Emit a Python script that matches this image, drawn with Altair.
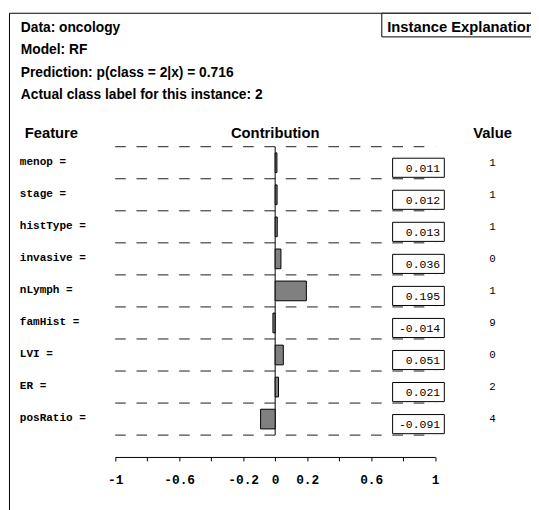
import altair as alt
import pandas as pd

# ---- data ----
features = ["menop", "stage", "histType", "invasive", "nLymph",
            "famHist", "LVI", "ER", "posRatio"]
contributions = [0.011, 0.012, 0.013, 0.036, 0.195, -0.014, 0.051, 0.021, -0.091]
feature_values = ["1", "1", "1", "0", "1", "9", "0", "2", "4"]
title_lines = ["Data: oncology", "Model: RF",
               "Prediction: p(class = 2|x) = 0.716",
               "Actual class label for this instance: 2"]
tick_values = [-1, -0.8, -0.6, -0.4, -0.2, 0, 0.2, 0.4, 0.6, 0.8, 1]
tick_labels = ["-1", "", "-0.6", "", "-0.2", "0", "0.2", "", "0.6", "", "1"]
box_title = "Instance Explanation"
headers = ["Feature", "Contribution", "Value"]

n = len(features)
rows = pd.DataFrame({
    "feature": features,
    "contribution": contributions,
    "value": feature_values,
    "row": list(range(n)),
    "clabel": [f"{c:.3f}" for c in contributions],
})
bounds = pd.DataFrame({"b": list(range(n + 1))})
one = pd.DataFrame({"k": [0]})

MONO = "Liberation Mono"
SANS = "Liberation Sans"
W, H = 531, 452
ROW_PX = (429.8 - 137.0) / n

xscale = alt.Scale(domain=[-1, 1], range=[108.8, 433.7], nice=False, zero=False)
yscale = alt.Scale(domain=[0, n], range=[137.0, 429.8], nice=False, zero=False)

vals_js = "[" + ",".join(str(v) for v in tick_values) + "]"
labs_js = "[" + ",".join("'" + s + "'" for s in tick_labels) + "]"
xaxis = alt.Axis(values=tick_values, title=None, grid=False,
                 labelExpr=f"{labs_js}[indexof({vals_js}, datum.value)]",
                 labelOverlap=False, labelFlush=False, zindex=1)

base = alt.Chart(rows).transform_calculate(
    yc="datum.row + 0.5",
    y0=f"datum.row + 0.5 - {10.0 / ROW_PX}",
    y1=f"datum.row + 0.5 + {10.0 / ROW_PX}",
    bt=f"datum.row + 0.5 - {4.6 / ROW_PX}",
    bb=f"datum.row + 0.5 + {14.8 / ROW_PX}",
    label="datum.feature + ' ='",
    zx="0",
)

frame = alt.Chart(one).mark_rect(fill="white", fillOpacity=0, stroke="black",
                                 strokeWidth=1).encode(
    x=alt.value(1.5), x2=alt.value(W + 40), y=alt.value(1.5), y2=alt.value(H + 120))

dashes = alt.Chart(bounds).transform_calculate(xa="-1", xb="1").mark_rule(
    color="#1a1a1a", strokeWidth=1, strokeDash=[10.8, 10.85]).encode(
    x=alt.X("xa:Q", scale=xscale, axis=xaxis), x2="xb:Q",
    y=alt.Y("b:Q", scale=yscale, axis=None))

zero = alt.Chart(one).transform_calculate(
    xz="0", ya="0", yb=str(n)).mark_rule(color="black", strokeWidth=1).encode(
    x=alt.X("xz:Q", scale=xscale, axis=xaxis),
    y=alt.Y("ya:Q", scale=yscale, axis=None), y2="yb:Q")

bars = base.mark_rect(color="#808080", stroke="black", strokeWidth=1).encode(
    x=alt.X("contribution:Q", scale=xscale, axis=xaxis), x2="zx:Q",
    y=alt.Y("y0:Q", scale=yscale, axis=None), y2="y1:Q")

flabels = base.mark_text(align="left", baseline="alphabetic", font=MONO,
                         fontWeight="bold", fontSize=11.2, dy=2, color="black").encode(
    x=alt.value(12), y=alt.Y("yc:Q", scale=yscale, axis=None), text="label:N")

boxes = base.mark_rect(fill="white", stroke="black", strokeWidth=1).encode(
    x=alt.value(390.5), x2=alt.value(443),
    y=alt.Y("bt:Q", scale=yscale, axis=None), y2="bb:Q")

boxtext = base.mark_text(align="right", baseline="alphabetic", font=MONO,
                         fontSize=11.6, dy=9.5, color="black").encode(
    x=alt.value(438.7), y=alt.Y("yc:Q", scale=yscale, axis=None), text="clabel:N")

vtext = base.mark_text(align="center", baseline="alphabetic", font=MONO,
                       fontSize=11, dy=3, color="black").encode(
    x=alt.value(492), y=alt.Y("yc:Q", scale=yscale, axis=None), text="value:N")

layers = [frame, dashes, zero, bars, boxes, flabels, boxtext, vtext]

# headers
hdr_x = [(17, "left"), (271.3, "center"), (492, "center")]
for (hx, al), txt in zip(hdr_x, headers):
    layers.append(alt.Chart(one).mark_text(
        align=al, baseline="alphabetic", font=SANS, fontWeight="bold",
        fontSize=15, color="black", text=txt).encode(
        x=alt.value(hx), y=alt.value(128)))

# title lines
for k, line in enumerate(title_lines):
    layers.append(alt.Chart(one).mark_text(
        align="left", baseline="alphabetic", font=SANS, fontWeight="bold",
        fontSize=14, color="black", text=line).encode(
        x=alt.value(13), y=alt.value(20.2 + 22.8 * k)))

# instance explanation box
layers.append(alt.Chart(one).mark_rect(fill="white", stroke="black", strokeWidth=1).encode(
    x=alt.value(379.5), x2=alt.value(W + 60), y=alt.value(1.5), y2=alt.value(25.5)))
layers.append(alt.Chart(one).mark_text(
    align="left", baseline="alphabetic", font=SANS, fontWeight="bold",
    fontSize=15, color="black", text=box_title).encode(
    x=alt.value(385), y=alt.value(20.5)))

chart = alt.layer(*layers).properties(
    width=W, height=H,
    autosize=alt.AutoSizeParams(type="none"),
    padding={"left": 0, "top": 0, "right": 0, "bottom": 50},
    background="white",
).configure_view(strokeWidth=0).configure_axis(
    domainColor="black", domainWidth=1, tickColor="black", tickWidth=1,
    tickSize=4, labelFont=MONO, labelFontSize=13, labelFontWeight="bold",
    labelColor="black", labelPadding=13,
)

chart.save("out.html", embed_options={"renderer": "svg", "actions": False})
